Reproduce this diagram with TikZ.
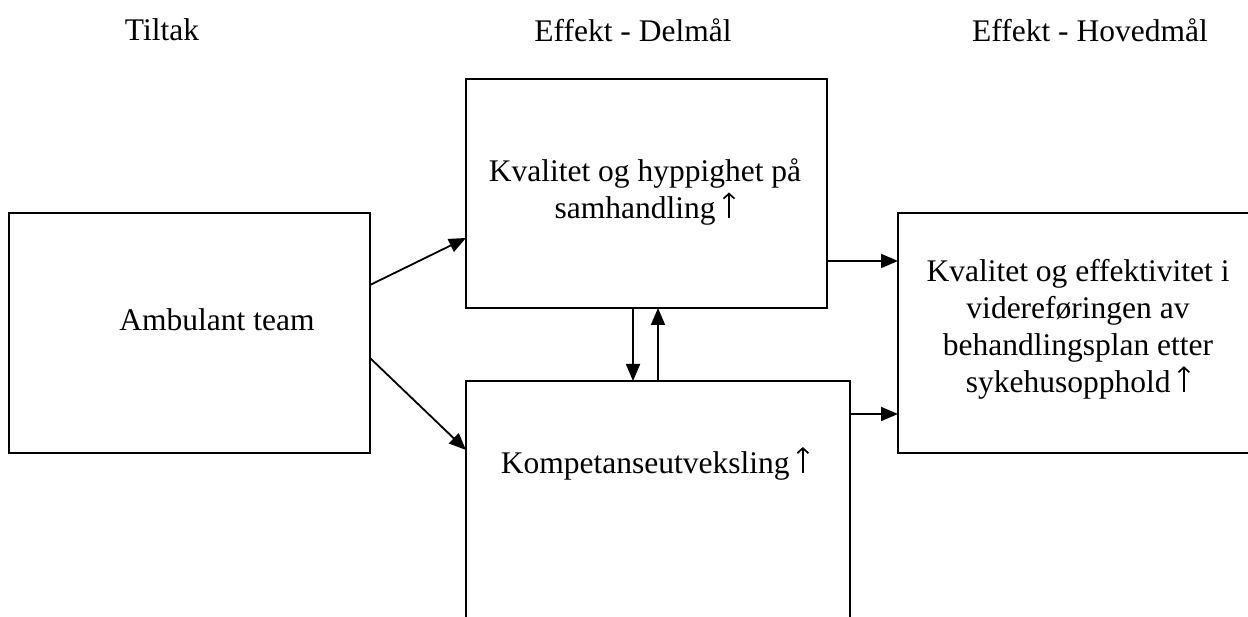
\documentclass[tikz,border=0pt]{standalone}
\usepackage{fontspec}
\setmainfont{Liberation Serif}
\usetikzlibrary{arrows.meta}
\newcommand{\uparr}{\hspace{7pt}\tikz[baseline=0pt]\draw[line width=1.7pt,-{Straight Barb[length=5pt,width=11pt]}] (0,0) -- (0,26pt);}
\begin{document}
\begin{tikzpicture}[x=1pt,y=1pt,
  every node/.style={font=\fontsize{31.5}{37}\selectfont},
  box/.style={draw, line width=2pt, inner sep=0pt, outer sep=0pt, anchor=center},
  txt/.style={align=center, inner sep=0pt},
  arr/.style={line width=1.8pt, -{Triangle[length=17pt,width=14pt]}}]
\useasboundingbox (0,0) rectangle (1248,617);
\clip (0,0) rectangle (1248,617);
% headings
\node[txt] (h1) at (162,587) {Tiltak};
\node[txt] (h2) at (633,587) {Effekt - Delmål};
\node[txt] (h3) at (1090,587) {Effekt - Hovedmål};
% boxes
\node[box, minimum width=361pt, minimum height=240pt] (L) at (189.5,284) {};
\node[txt] (Lt) at (217,297) {Ambulant team};
\node[box, minimum width=361pt, minimum height=229pt] (T) at (646.5,423.5) {};
\node[txt] (Tt) at (645,425) {Kvalitet og hyppighet på\\samhandling\uparr};
\node[box, minimum width=384pt, minimum height=336pt] (B) at (658,68) {};
\node[txt] (Bt) at (655,154) {Kompetanseutveksling\uparr};
\node[box, minimum width=402pt, minimum height=240pt] (R) at (1099,284) {};
\node[txt] (Rt) at (1078,288) {Kvalitet og effektivitet i\\videreføringen av\\behandlingsplan etter\\sykehusopphold\uparr};
% arrows
\draw[arr] ([yshift=48pt]L.east) -- ([yshift=-44.5pt]T.west);
\draw[arr] ([yshift=-25pt]L.east) -- ([yshift=-69pt]B.north west);
\draw[arr] ([yshift=-67.5pt]T.east) -- ([yshift=72pt]R.west);
\draw[arr] ([yshift=-33pt]B.north east) -- ([yshift=-81pt]R.west);
\draw[arr] ([xshift=-13.5pt]T.south) -- ([xshift=-25pt]B.north);
\draw[arr] (B.north) -- ([xshift=11.5pt]T.south);
\end{tikzpicture}
\end{document}
